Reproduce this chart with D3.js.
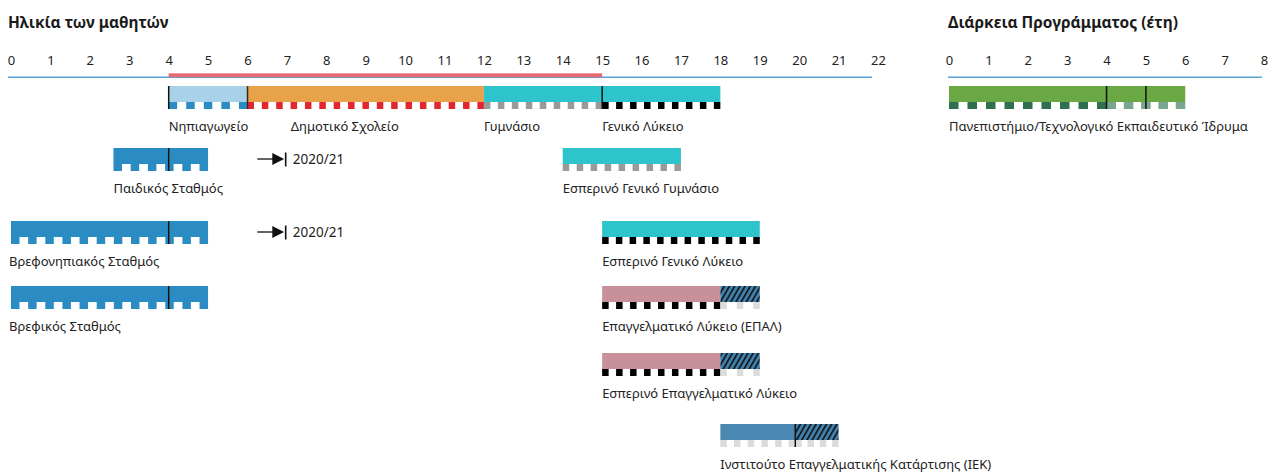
<!DOCTYPE html>
<html><head><meta charset="utf-8">
<script src="https://cdn.jsdelivr.net/npm/d3@7"></script>
<style>
body{margin:0;background:#fff}
svg{display:block}
text{font-family:"Noto Sans",sans-serif}
</style>
</head><body>
<svg id="chart" width="1273" height="475"></svg>
<script>
// ---------- data ----------
const ageTicks = d3.range(0, 23);
const durationTicks = d3.range(0, 9);
const compulsoryAges = [4, 15];

const progNames = ["Νηπιαγωγείο","Δημοτικό Σχολείο","Γυμνάσιο","Γενικό Λύκειο",
  "Παιδικός Σταθμός","Εσπερινό Γενικό Γυμνάσιο","Βρεφονηπιακός Σταθμός","Εσπερινό Γενικό Λύκειο",
  "Βρεφικός Σταθμός","Επαγγελματικό Λύκειο (ΕΠΑΛ)","Εσπερινό Επαγγελματικό Λύκειο",
  "Ινστιτούτο Επαγγελματικής Κατάρτισης (ΙΕΚ)","Πανεπιστήμιο/Τεχνολογικό Εκπαιδευτικό Ίδρυμα"];
const progRow     = [0,0,0,0,1,1,2,2,3,3,4,5,0];
const progAxis    = ["age","age","age","age","age","age","age","age","age","age","age","age","duration"];
const progLabelAt = [4,7.1,12,15,2.6,14,0,15,0,15,15,18,0];

const segProg  = [0,1,2,3,4,5,6,7,8,9,9,10,10,11,11,12,12];
const segStart = [4,6,12,15,2.6,14,0,15,0,15,18,15,18,18,19.9,0,4];
const segEnd   = [6,12,15,18,5,17,5,19,5,18,19,18,19,19.9,21,4,6];
const segFill  = ["nursery","primary","secondary","secondary","creche","secondary","creche","secondary","creche",
                  "vocational","hatch","vocational","hatch","iek","hatch","tertiary","tertiary"];
const segStrip = ["blue","red","grey","black","blue","grey","blue","black","blue",
                  "black","light","black","light","light","light","green","greenLight"];

const divProg = [0,0,3,4,6,8,11,12,12];
const divAt   = [4,6,15,4,4,4,19.9,4,5];

const noteRow   = [1,2];
const noteText  = ["2020/21","2020/21"];

// ---------- styles ----------
const fillColor = {nursery:"#a9d1e8", primary:"#e8a24a", secondary:"#2ec4cb", creche:"#2b8cc4",
  vocational:"#c8909b", iek:"#4a87b1", tertiary:"#6aa844", hatch:"url(#hatch)"};
const stripStyle = {
  blue:{c:"#2b8cc4", p:17.5, w:8.5}, red:{c:"#e2262f", p:14.1, w:6.5}, grey:{c:"#9a9a9a", p:14.1, w:6.5},
  black:{c:"#000", p:14.1, w:6.5}, light:{c:"#dcdcdc", p:14.1, w:6.5},
  green:{c:"#2e7050", p:19, w:9.5}, greenLight:{c:"#7aa590", p:19, w:9.5}};
const rowTop = [86,148,221,286,353,424];
const barH = 16, stripH = 7;

// ---------- scales ----------
const xAge = d3.scaleLinear().domain([0,22]).range([11,878]);
const xDur = d3.scaleLinear().domain([0,8]).range([949,1264]);
const scaleOf = a => a === "age" ? xAge : xDur;

const svg = d3.select("#chart");
const defs = svg.append("defs");
const hp = defs.append("pattern").attr("id","hatch").attr("patternUnits","userSpaceOnUse")
  .attr("width",4.5).attr("height",10).attr("patternTransform","rotate(30)");
hp.append("rect").attr("width",4.5).attr("height",10).attr("fill","#3f80ad");
hp.append("rect").attr("width",1.6).attr("height",10).attr("fill","#111");

// titles
svg.append("text").attr("x",8).attr("y",28).attr("font-size",15.5).attr("font-weight",700)
  .attr("fill","#1a1a1a").text("Ηλικία των μαθητών");
svg.append("text").attr("x",948).attr("y",28).attr("font-size",15.5).attr("font-weight",700)
  .attr("fill","#1a1a1a").text("Διάρκεια Προγράμματος (έτη)");

// axes
function drawAxis(scale, ticks){
  const g = svg.append("g").attr("transform","translate(0,65)")
    .call(d3.axisTop(scale).tickValues(ticks).tickSize(0).tickPadding(0).tickFormat(d3.format("d")));
  g.select(".domain").remove();
  g.attr("font-family",null).attr("font-size",null);
  g.selectAll("text").attr("font-size",13).attr("fill","#222");
}
drawAxis(xAge, ageTicks);
drawAxis(xDur, durationTicks);

svg.append("rect").attr("x",xAge(0)-3).attr("y",76.5).attr("width",xAge(22)-xAge(0)-3).attr("height",1.4).attr("fill","#4c9bd3");
svg.append("rect").attr("x",xDur(0)-1).attr("y",76.5).attr("width",xDur(8)-xDur(0)-1).attr("height",1.4).attr("fill","#4c9bd3");
svg.append("rect").attr("x",xAge(compulsoryAges[0])).attr("y",73.3).attr("width",xAge(compulsoryAges[1])-xAge(compulsoryAges[0]))
  .attr("height",4).attr("fill","#e56a74");

// segments
const segs = segProg.map((p,i)=>({p, row:progRow[p], sc:scaleOf(progAxis[p]), s:segStart[i], e:segEnd[i], fill:segFill[i], strip:segStrip[i]}));
svg.append("g").selectAll("rect").data(segs).join("rect")
  .attr("x",d=>d.sc(d.s)).attr("y",d=>rowTop[d.row])
  .attr("width",d=>d.sc(d.e)-d.sc(d.s)).attr("height",barH)
  .attr("fill",d=>fillColor[d.fill]);

// strip squares
const squares = [];
segs.forEach(d=>{
  const st = stripStyle[d.strip];
  const x0 = d.sc(d.s), L = d.sc(d.e)-x0;
  const n = Math.max(1, Math.round((L + st.p - st.w)/st.p));
  const step = n>1 ? (L - st.w)/(n-1) : 0;
  for(let k=0;k<n;k++) squares.push({x:x0+k*step, y:rowTop[d.row]+barH, w:st.w, c:st.c});
});
svg.append("g").selectAll("rect").data(squares).join("rect")
  .attr("x",d=>d.x).attr("y",d=>d.y).attr("width",d=>d.w).attr("height",stripH).attr("fill",d=>d.c);

// dividers
svg.append("g").selectAll("rect").data(divProg.map((p,i)=>({p, at:divAt[i]}))).join("rect")
  .attr("x",d=>scaleOf(progAxis[d.p])(d.at)-0.7).attr("y",d=>rowTop[progRow[d.p]])
  .attr("width",1.5).attr("height",barH+stripH)
  .attr("fill",d=>d.at===6 ? "#3b2a18" : "#111");

// labels
svg.append("g").selectAll("text").data(progNames).join("text")
  .attr("x",(d,i)=>scaleOf(progAxis[i])(progLabelAt[i]) - (progLabelAt[i]===0 && progAxis[i]==="age" ? 2 : 0))
  .attr("y",(d,i)=>rowTop[progRow[i]]+45)
  .attr("font-size",13).attr("fill","#222").text(d=>d);

// notes (arrow + year)
const notes = svg.append("g").selectAll("g").data(noteRow.map((r,i)=>({r, t:noteText[i]}))).join("g")
  .attr("transform",d=>`translate(0,${rowTop[d.r]+11})`);
notes.append("line").attr("x1",xAge(6.25)).attr("x2",xAge(6.65)).attr("y1",0).attr("y2",0).attr("stroke","#111").attr("stroke-width",1.3);
notes.append("path").attr("d",()=>`M${xAge(6.63)},-6 L${xAge(6.93)},0 L${xAge(6.63)},6Z`).attr("fill","#111");
notes.append("rect").attr("x",xAge(6.95)).attr("y",-6.5).attr("width",1.6).attr("height",14).attr("fill","#111");
notes.append("text").attr("x",xAge(7.15)).attr("y",5).attr("font-size",13.5).attr("fill","#222").text(d=>d.t);
</script>
</body></html>
